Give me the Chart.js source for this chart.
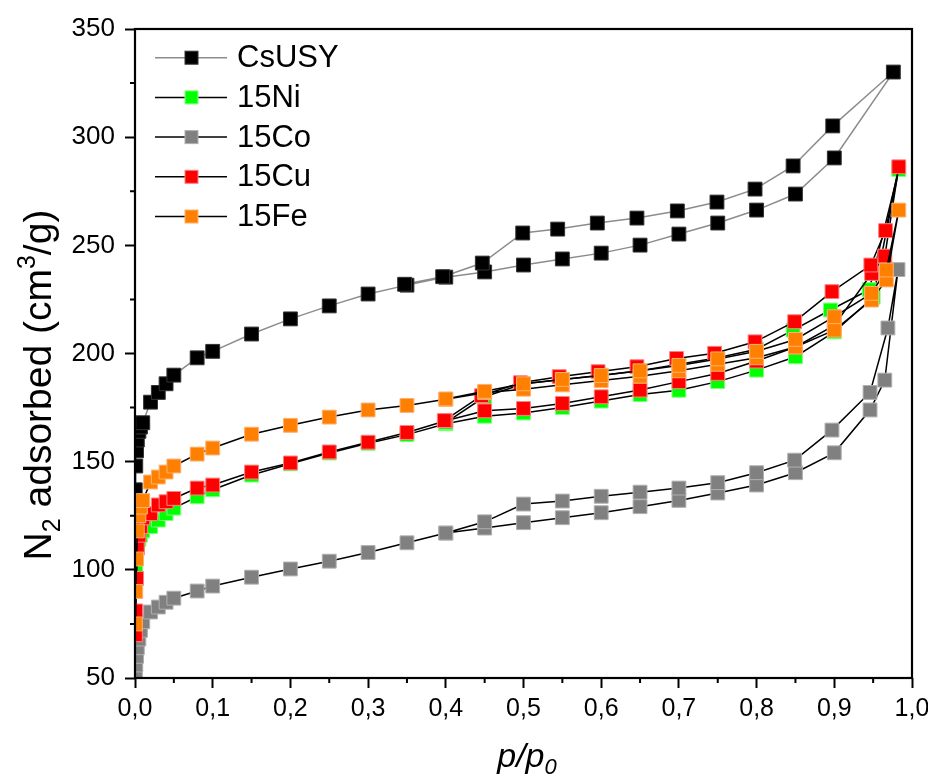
<!DOCTYPE html>
<html>
<head>
<meta charset="utf-8">
<script src="https://cdn.jsdelivr.net/npm/chart.js@4.4.1/dist/chart.umd.min.js"></script>
<style>
  html, body { margin: 0; padding: 0; background: #fff; }
</style>
</head>
<body>
<canvas id="myChart" width="928" height="778"></canvas>
<script>
// N2 isotherms, adsorption branch then desorption branch in each array
const seriesNames = ['CsUSY', '15Ni', '15Co', '15Cu', '15Fe'];

const csusyP = [0.0003,0.001,0.002,0.003,0.005,0.007,0.01,0.02,0.03,0.04,0.05,0.08,0.1,0.15,0.2,0.25,0.3,0.35,0.4,0.45,0.5,0.55,0.6,0.65,0.7,0.75,0.8,0.85,0.9,0.976,0.898,0.847,0.798,0.749,0.698,0.646,0.595,0.544,0.499,0.447,0.396,0.347];
const csusyV = [137,148,155,160,164,166,168,177.5,182,186,190,198,201,209,216,222,227.5,231.6,235.3,237.7,240.9,243.7,246.4,250.1,255.2,260.3,266.3,273.7,290.4,330.1,305.2,286.7,276,270,265.9,262.6,260.3,257.5,255.7,241.8,235.5,232];

const niP = [0.0005,0.001,0.002,0.003,0.005,0.007,0.01,0.02,0.03,0.04,0.05,0.08,0.1,0.15,0.2,0.25,0.3,0.35,0.4,0.45,0.5,0.55,0.6,0.65,0.7,0.75,0.8,0.85,0.9,0.95,0.983,0.945,0.895,0.847,0.8,0.75,0.7,0.65,0.6,0.55,0.5,0.45,0.4];
const niV = [97,102,107,111,114,116,118,120,123,126,128.5,133.8,137,143.8,149,154,158.5,162.5,167.5,171,172.5,175,178,181,183,187,192.3,198.5,210,226,285,229.5,220.1,210.8,202,198,195,192,190,188,186,180,168];

const coP = [0.0005,0.001,0.002,0.003,0.005,0.007,0.01,0.02,0.03,0.04,0.05,0.08,0.1,0.15,0.2,0.25,0.3,0.35,0.4,0.45,0.5,0.55,0.6,0.65,0.7,0.75,0.8,0.85,0.9,0.946,0.965,0.982,0.969,0.946,0.897,0.849,0.8,0.75,0.7,0.65,0.6,0.55,0.5,0.45,0.4];
const coV = [52,56,60,64,68,72,76,80.5,82.8,85,86.9,90.2,92.5,96.6,100.4,104,108,112.5,117,119.3,121.8,124.1,126.4,129.2,132.1,135.5,139.2,144.9,154.1,173.9,187.7,238.8,211.8,182,164.6,150.7,144.9,140.3,137.8,135.9,134,131.8,130.4,122.2,117];

const cuP = [0.0005,0.001,0.002,0.003,0.005,0.007,0.01,0.02,0.03,0.04,0.05,0.08,0.1,0.15,0.2,0.25,0.3,0.35,0.4,0.45,0.5,0.55,0.6,0.65,0.7,0.75,0.8,0.85,0.9,0.948,0.965,0.983,0.966,0.947,0.897,0.849,0.798,0.746,0.697,0.646,0.596,0.546,0.496,0.446,0.398];
const cuV = [70,81,96,110,116,120,124,126,130,131.5,133,137.8,139.2,145.2,149.4,154.5,159,163.5,168.9,173.5,174.6,176.9,180,183.1,187,190.8,196.5,203,213,237,245,286.3,256.8,240.9,228.6,214.7,205.4,200.1,197.7,193.9,191.6,189.3,186.5,180.5,169];

const feP = [0.0005,0.001,0.002,0.003,0.005,0.007,0.01,0.02,0.03,0.04,0.05,0.08,0.1,0.15,0.2,0.25,0.3,0.35,0.4,0.45,0.5,0.55,0.6,0.65,0.7,0.75,0.8,0.85,0.9,0.948,0.967,0.983,0.967,0.948,0.9,0.85,0.8,0.75,0.7,0.65,0.6,0.55,0.5,0.45,0.4];
const feV = [75,90,105,118,125,129,132,140.6,142.9,145.2,148,153.5,156.3,162.7,166.8,170.6,173.9,176,178.8,181.9,183.5,185.5,187.5,189.5,192,195,198,203,210.8,224.7,234,266.3,238.6,227.8,217,206.5,201,197.5,194.5,192,189.8,188,186,182.5,179];

const xTicks = [0, 0.1, 0.2, 0.3, 0.4, 0.5, 0.6, 0.7, 0.8, 0.9, 1.0];
const yTicks = [50, 100, 150, 200, 250, 300, 350];

const fillColors = ['#000000', '#00ff00', '#808080', '#ff0000', '#ff8000'];
const edgeColors = ['#333333', '#80ff80', '#b0b0b0', '#ff8080', '#ffb070'];
const lineColors = ['#8c8c8c', '#000000', '#000000', '#000000', '#000000'];
const drawOrder = [4, 3, 2, 1, 0];

const FONT = "'Liberation Sans', Arial, sans-serif";

function pts(p, v) {
  return p.map((x, i) => ({ x: x, y: v[i] }));
}

const allP = [csusyP, niP, coP, cuP, feP];
const allV = [csusyV, niV, coV, cuV, feV];

const datasets = seriesNames.map((name, i) => ({
  label: name,
  data: pts(allP[i], allV[i]),
  showLine: true,
  borderColor: lineColors[i],
  borderWidth: 1.5,
  pointStyle: 'rect',
  pointRadius: 9.8,
  pointBackgroundColor: fillColors[i],
  pointBorderColor: edgeColors[i],
  pointBorderWidth: 1,
  order: drawOrder[i],
  clip: 0
}));

// frame, minor ticks, legend and axis titles
const decor = {
  id: 'decor',
  afterDraw(chart) {
    const ctx = chart.ctx;
    const a = chart.chartArea;
    const xs = chart.scales.x, ys = chart.scales.y;
    ctx.save();

    ctx.strokeStyle = '#000';
    ctx.lineWidth = 2;
    ctx.beginPath();
    for (let k = 0; k < xTicks.length - 1; k++) {
      const px = xs.getPixelForValue((xTicks[k] + xTicks[k + 1]) / 2);
      ctx.moveTo(px, a.bottom);
      ctx.lineTo(px, a.bottom + 5);
    }
    for (let k = 0; k < yTicks.length - 1; k++) {
      const py = ys.getPixelForValue((yTicks[k] + yTicks[k + 1]) / 2);
      ctx.moveTo(a.left, py);
      ctx.lineTo(a.left - 5, py);
    }
    ctx.stroke();

    ctx.lineWidth = 2.2;
    ctx.strokeRect(a.left, a.top, a.right - a.left, a.bottom - a.top);

    // legend
    ctx.textBaseline = 'middle';
    ctx.textAlign = 'left';
    ctx.font = '31px ' + FONT;
    seriesNames.forEach((name, i) => {
      const cy = 57.7 + i * 39.7;
      ctx.strokeStyle = lineColors[i];
      ctx.lineWidth = 1.5;
      ctx.beginPath();
      ctx.moveTo(155, cy);
      ctx.lineTo(227, cy);
      ctx.stroke();
      ctx.fillStyle = fillColors[i];
      ctx.fillRect(185, cy - 6.5, 13, 13);
      ctx.strokeStyle = edgeColors[i];
      ctx.lineWidth = 1;
      ctx.strokeRect(185, cy - 6.5, 13, 13);
      ctx.fillStyle = '#000';
      ctx.fillText(name, 237, cy + 1);
    });

    // y title with subscript and superscript
    const big = '39px ' + FONT, small = '25px ' + FONT;
    const parts = [
      { t: 'N', f: big, dy: 0 },
      { t: '2', f: small, dy: 9 },
      { t: ' adsorbed (cm', f: big, dy: 0 },
      { t: '3', f: small, dy: -16 },
      { t: '/g)', f: big, dy: 0 }
    ];
    let total = 0;
    parts.forEach(p => { ctx.font = p.f; p.w = ctx.measureText(p.t).width; total += p.w; });
    ctx.translate(37, 385);
    ctx.rotate(-Math.PI / 2);
    ctx.textBaseline = 'alphabetic';
    ctx.fillStyle = '#000';
    let x0 = -total / 2;
    parts.forEach(p => {
      ctx.font = p.f;
      ctx.fillText(p.t, x0, 14 + p.dy);
      x0 += p.w;
    });
    ctx.setTransform(1, 0, 0, 1, 0, 0);

    // x title p/p0 in italics
    const xb = 'italic 34px ' + FONT, xs2 = 'italic 22px ' + FONT;
    ctx.font = xb;
    const w1 = ctx.measureText('p/p').width;
    ctx.font = xs2;
    const w2 = ctx.measureText('0').width;
    let sx = 527 - (w1 + w2) / 2;
    ctx.font = xb;
    ctx.fillText('p/p', sx, 767);
    ctx.font = xs2;
    ctx.fillText('0', sx + w1, 774);

    ctx.restore();
  }
};

const ctx = document.getElementById('myChart').getContext('2d');

new Chart(ctx, {
  type: 'scatter',
  data: { datasets: datasets },
  options: {
    responsive: false,
    animation: false,
    devicePixelRatio: 1,
    events: [],
    layout: { padding: { top: 29, right: 16, left: 0, bottom: 0 } },
    plugins: {
      legend: { display: false },
      tooltip: { enabled: false },
      title: { display: false }
    },
    scales: {
      x: {
        type: 'linear',
        min: 0,
        max: 1,
        afterBuildTicks: s => { s.ticks = xTicks.map(v => ({ value: v })); },
        afterFit: s => { s.height = 100; s.paddingLeft = 0; s.paddingRight = 0; },
        ticks: {
          callback: v => v.toFixed(1).replace('.', ','),
          font: { family: FONT, size: 25 },
          color: '#000',
          padding: 6,
          maxRotation: 0,
          autoSkip: false
        },
        grid: { drawOnChartArea: false, drawTicks: true, tickLength: 10, tickWidth: 2, tickColor: '#000' },
        border: { display: false }
      },
      y: {
        type: 'linear',
        min: 50,
        max: 350,
        afterBuildTicks: s => { s.ticks = yTicks.map(v => ({ value: v })); },
        afterFit: s => { s.width = 135; },
        ticks: {
          callback: v => String(v),
          font: { family: FONT, size: 26 },
          color: '#000',
          padding: 10,
          autoSkip: false
        },
        grid: { drawOnChartArea: false, drawTicks: true, tickLength: 10, tickWidth: 2, tickColor: '#000' },
        border: { display: false }
      }
    }
  },
  plugins: [decor]
});
</script>
</body>
</html>
